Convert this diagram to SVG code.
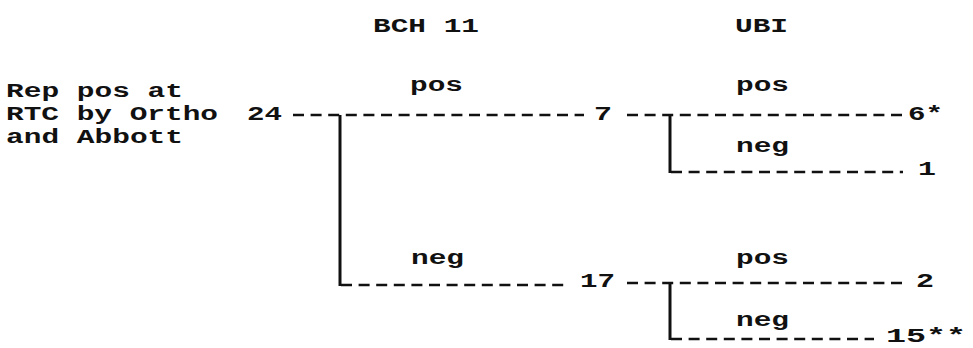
<svg xmlns="http://www.w3.org/2000/svg" width="973" height="348" viewBox="0 0 973 348">
<style>
text{font-family:"Liberation Mono","Courier New",monospace;font-size:20px;font-weight:bold;fill:#111}
.d{stroke:#111;stroke-width:2.6;stroke-dasharray:11 6.6;fill:none}
.s{stroke:#111;stroke-width:3;fill:none}
</style>
<rect width="973" height="348" fill="#fff"/>
<g id="headers">
<text x="373" y="32" textLength="106" lengthAdjust="spacingAndGlyphs">BCH 11</text>
<text x="735" y="32" textLength="53" lengthAdjust="spacingAndGlyphs">UBI</text>
</g>
<g id="root">
<text x="6" y="97" textLength="177" lengthAdjust="spacingAndGlyphs">Rep pos at</text>
<text x="6" y="120" textLength="212" lengthAdjust="spacingAndGlyphs">RTC by Ortho</text>
<text x="6" y="143" textLength="177" lengthAdjust="spacingAndGlyphs">and Abbott</text>
<text x="247" y="120" textLength="35" lengthAdjust="spacingAndGlyphs">24</text>
</g>
<g id="bch-pos"><text x="410" y="91" textLength="53" lengthAdjust="spacingAndGlyphs">pos</text><text x="594" y="120" textLength="18" lengthAdjust="spacingAndGlyphs">7</text></g>
<g id="bch-neg"><text x="411" y="264" textLength="53" lengthAdjust="spacingAndGlyphs">neg</text><text x="580" y="287" textLength="35" lengthAdjust="spacingAndGlyphs">17</text></g>
<g id="ubi-pos-pos"><text x="736" y="91" textLength="53" lengthAdjust="spacingAndGlyphs">pos</text><text x="908" y="120" textLength="35" lengthAdjust="spacingAndGlyphs">6*</text></g>
<g id="ubi-pos-neg"><text x="736" y="152" textLength="53" lengthAdjust="spacingAndGlyphs">neg</text><text x="918" y="175" textLength="18" lengthAdjust="spacingAndGlyphs">1</text></g>
<g id="ubi-neg-pos"><text x="736" y="264" textLength="53" lengthAdjust="spacingAndGlyphs">pos</text><text x="916" y="287" textLength="18" lengthAdjust="spacingAndGlyphs">2</text></g>
<g id="ubi-neg-neg"><text x="736" y="326" textLength="53" lengthAdjust="spacingAndGlyphs">neg</text><text x="886" y="342" textLength="80" lengthAdjust="spacingAndGlyphs">15**</text></g>
<g id="connectors">
<path class="d" d="M293 115H584"/>
<path class="s" d="M340 115V286"/>
<path class="d" d="M341 285H569"/>
<path class="d" d="M627 115H903"/>
<path class="s" d="M670 115V173"/>
<path class="d" d="M671 172H903"/>
<path class="d" d="M627 283H903"/>
<path class="s" d="M670 283V340"/>
<path class="d" d="M671 339H874"/>
</g>
</svg>
